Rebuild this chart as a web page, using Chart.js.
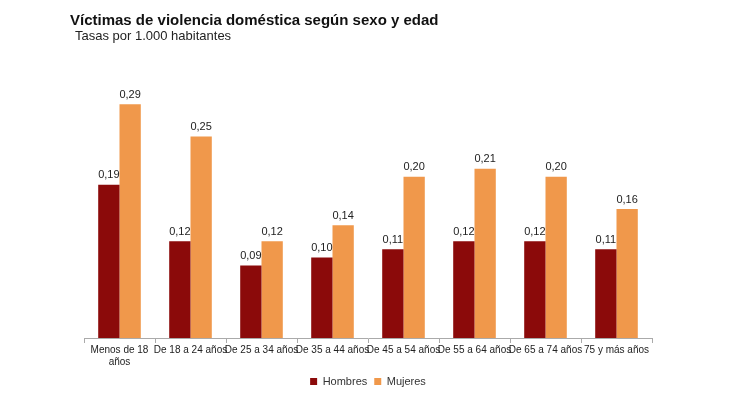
<!DOCTYPE html>
<html>
<head>
<meta charset="utf-8">
<script src="https://cdn.jsdelivr.net/npm/chart.js@4"></script>
<style>
  body { margin: 0; background: #fff; font-family: "Liberation Sans", Arial, sans-serif; }
  #wrap { position: relative; width: 750px; height: 413px; }
  #title { position: absolute; left: 70px; top: 11px; font-size: 15px; font-weight: bold; color: #111; }
  #subtitle { position: absolute; left: 75px; top: 28px; font-size: 13px; color: #222; }
  canvas { position: absolute; left: 0; top: 0; }
</style>
</head>
<body>
<div id="wrap">
  <canvas id="chart" width="750" height="413"></canvas>
  <div id="title">Víctimas de violencia doméstica según sexo y edad</div>
  <div id="subtitle">Tasas por 1.000 habitantes</div>
</div>
<script>
const categories = [['Menos de 18', 'años'], 'De 18 a 24 años', 'De 25 a 34 años', 'De 35 a 44 años',
  'De 45 a 54 años', 'De 55 a 64 años', 'De 65 a 74 años', '75 y más años'];
const hombres = [0.19, 0.12, 0.09, 0.10, 0.11, 0.12, 0.12, 0.11];
const mujeres = [0.29, 0.25, 0.12, 0.14, 0.20, 0.21, 0.20, 0.16];

// value labels above each bar, comma decimals
const barLabels = {
  id: 'barLabels',
  afterDatasetsDraw(chart) {
    const ctx = chart.ctx;
    ctx.save();
    ctx.font = '11px "Liberation Sans", Arial, sans-serif';
    ctx.fillStyle = '#222';
    ctx.textAlign = 'center';
    ctx.textBaseline = 'bottom';
    chart.data.datasets.forEach((ds, i) => {
      chart.getDatasetMeta(i).data.forEach((bar, j) => {
        ctx.fillText(ds.data[j].toFixed(2).replace('.', ','), bar.x, bar.y - 4);
      });
    });
    ctx.restore();
  }
};

new Chart(document.getElementById('chart'), {
  type: 'bar',
  data: {
    labels: categories,
    datasets: [
      { label: 'Hombres', data: hombres, backgroundColor: '#8B0A0A', categoryPercentage: 0.6, barPercentage: 1.0 },
      { label: 'Mujeres', data: mujeres, backgroundColor: '#F0984B', categoryPercentage: 0.6, barPercentage: 1.0 }
    ]
  },
  options: {
    responsive: false,
    animation: false,
    layout: { padding: { left: 84, right: 98, top: 80, bottom: 16 } },
    plugins: {
      legend: {
        position: 'bottom',
        labels: {
          boxWidth: 7, boxHeight: 7, padding: 7,
          color: '#333',
          font: { size: 11, family: '"Liberation Sans", Arial, sans-serif' }
        }
      },
      tooltip: { enabled: false }
    },
    scales: {
      x: {
        offset: true,
        grid: { offset: true, drawOnChartArea: false, drawTicks: true, tickLength: 5, color: '#aaa' },
        border: { display: true, color: '#aaa' },
        ticks: {
          color: '#222', padding: 1, maxRotation: 0, autoSkip: false,
          font: { size: 10, family: '"Liberation Sans", Arial, sans-serif' }
        }
      },
      y: { display: false, min: 0, max: 0.32 }
    }
  },
  plugins: [barLabels]
});
</script>
</body>
</html>
